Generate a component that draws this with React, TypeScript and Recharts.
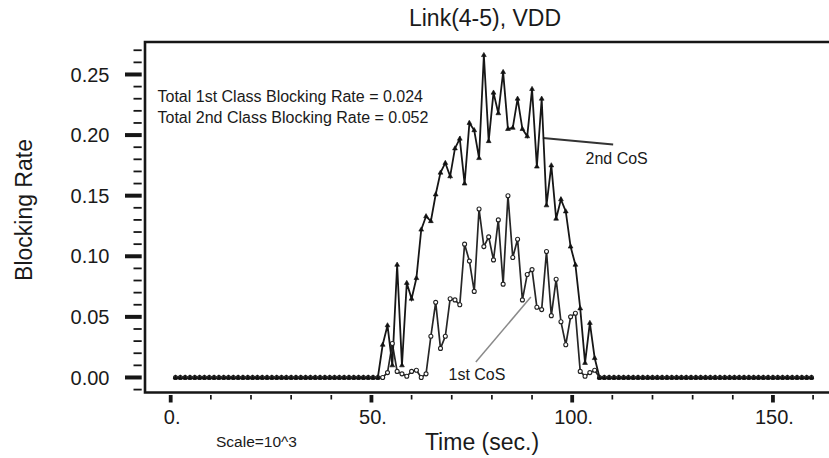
import React from 'react';
import { LineChart, Line, XAxis, YAxis, ReferenceLine, ReferenceArea } from 'recharts';

// Time samples (sec., scale 10^3)
const times = [
  1.2, 2.4, 3.6, 4.8, 6, 7.2, 8.4, 9.6, 10.8, 12, 13.2, 14.4, 15.6, 16.8, 18, 19.2, 20.4, 21.6, 22.8, 24,
  25.2, 26.4, 27.6, 28.8, 30, 31.2, 32.4, 33.6, 34.8, 36, 37.2, 38.4, 39.6, 40.8, 42, 43.2, 44.4, 45.6, 46.8, 48,
  49.2, 50.4, 51.6, 52.8, 54, 55.2, 56.4, 57.6, 58.8, 60, 61.2, 62.4, 63.6, 64.8, 66, 67.2, 68.4, 69.6, 70.8, 72,
  73.2, 74.4, 75.6, 76.8, 78, 79.2, 80.4, 81.6, 82.8, 84, 85.2, 86.4, 87.6, 88.8, 90, 91.2, 92.4, 93.6, 94.8, 96,
  97.2, 98.4, 99.6, 100.8, 102, 103.2, 104.4, 105.6, 106.8, 108, 109.2, 110.4, 111.6, 112.8, 114, 115.2, 116.4, 117.6, 118.8, 120,
  121.2, 122.4, 123.6, 124.8, 126, 127.2, 128.4, 129.6, 130.8, 132, 133.2, 134.4, 135.6, 136.8, 138, 139.2, 140.4, 141.6, 142.8, 144,
  145.2, 146.4, 147.6, 148.8, 150, 151.2, 152.4, 153.6, 154.8, 156, 157.2, 158.4, 159.6,
];

// 1st CoS blocking rate
const firstCoS = [
  0, 0, 0, 0, 0, 0, 0, 0, 0, 0, 0, 0, 0, 0, 0, 0, 0, 0, 0, 0,
  0, 0, 0, 0, 0, 0, 0, 0, 0, 0, 0, 0, 0, 0, 0, 0, 0, 0, 0, 0,
  0, 0, 0, 0, 0.004, 0.028, 0.005, 0.003, 0.001, 0.005, 0.006, 0, 0.003, 0.034, 0.062, 0.024, 0.034, 0.065, 0.064, 0.06,
  0.11, 0.096, 0.071, 0.139, 0.108, 0.116, 0.097, 0.13, 0.077, 0.15, 0.099, 0.114, 0.064, 0.085, 0.089, 0.058, 0.056, 0.104, 0.051, 0.081,
  0.046, 0.027, 0.05, 0.053, 0.005, 0.001, 0.004, 0.006, 0, 0, 0, 0, 0, 0, 0, 0, 0, 0, 0, 0,
  0, 0, 0, 0, 0, 0, 0, 0, 0, 0, 0, 0, 0, 0, 0, 0, 0, 0, 0, 0,
  0, 0, 0, 0, 0, 0, 0, 0, 0, 0, 0, 0, 0,
];

// 2nd CoS blocking rate
const secondCoS = [
  0, 0, 0, 0, 0, 0, 0, 0, 0, 0, 0, 0, 0, 0, 0, 0, 0, 0, 0, 0,
  0, 0, 0, 0, 0, 0, 0, 0, 0, 0, 0, 0, 0, 0, 0, 0, 0, 0, 0, 0,
  0, 0, 0, 0.027, 0.043, 0.01, 0.093, 0.01, 0.078, 0.065, 0.082, 0.122, 0.133, 0.129, 0.151, 0.169, 0.177, 0.166, 0.189, 0.197,
  0.16, 0.21, 0.204, 0.181, 0.266, 0.195, 0.235, 0.218, 0.252, 0.205, 0.206, 0.23, 0.205, 0.199, 0.238, 0.174, 0.23, 0.142, 0.175, 0.131,
  0.147, 0.137, 0.108, 0.093, 0.057, 0.012, 0.045, 0.016, 0, 0, 0, 0, 0, 0, 0, 0, 0, 0, 0, 0,
  0, 0, 0, 0, 0, 0, 0, 0, 0, 0, 0, 0, 0, 0, 0, 0, 0, 0, 0, 0,
  0, 0, 0, 0, 0, 0, 0, 0, 0, 0, 0, 0, 0,
];

const xTicks = [0, 10, 20, 30, 40, 50, 60, 70, 80, 90, 100, 110, 120, 130, 140, 150, 160];
const xMajor = [0, 50, 100, 150];
const yTicks = [
  -0.01, 0, 0.01, 0.02, 0.03, 0.04, 0.05, 0.06, 0.07, 0.08, 0.09, 0.1, 0.11, 0.12, 0.13, 0.14,
  0.15, 0.16, 0.17, 0.18, 0.19, 0.2, 0.21, 0.22, 0.23, 0.24, 0.25, 0.26, 0.27,
];
const yMajor = [0, 0.05, 0.1, 0.15, 0.2, 0.25];

const xDomain = [-6.4, 167];
const yDomain = [-0.0124, 0.2768];

// annotation pointer segments (data coordinates)
const pointer2nd = [{ x: 92.7, y: 0.1976 }, { x: 110.2, y: 0.1922 }];
const pointer1st = [{ x: 76.0, y: 0.0128 }, { x: 89.7, y: 0.0664 }];

const data = times.map((t, i) => ({ t, first: firstCoS[i], second: secondCoS[i] }));

const FONT = '"Liberation Sans", Arial, Helvetica, sans-serif';
const INK = '#161616';

const XTick = (props: any) => {
  const { x, y, payload } = props;
  const v = payload.value;
  const major = xMajor.includes(v);
  return (
    <g>
      <line x1={x} x2={x} y1={y + 2.5} y2={y + (major ? 10 : 7)} stroke={INK} strokeWidth={major ? 3.8 : 1.7} />
      {major && (
        <text x={x + 1.5} y={y + 31} textAnchor="middle" fontSize={20} fontFamily={FONT} fill="#1a1a1a">
          {`${v}.`}
        </text>
      )}
    </g>
  );
};

const YTick = (props: any) => {
  const { x, y, payload } = props;
  const v = payload.value;
  const major = yMajor.some((m) => Math.abs(m - v) < 1e-9);
  return (
    <g>
      <line x1={x - (major ? 20 : 11.5)} x2={x - 3.3} y1={y} y2={y} stroke={INK} strokeWidth={major ? 4 : 1.8} />
      {major && (
        <text x={x - 35.5} y={y} dy="0.36em" textAnchor="end" fontSize={20} fontFamily={FONT} fill="#1a1a1a">
          {v.toFixed(2)}
        </text>
      )}
    </g>
  );
};

const TriDot = (props: any) => {
  const { cx, cy, index } = props;
  if (cx == null || cy == null) return <g key={`t${index}`} />;
  return (
    <path
      key={`t${index}`}
      d={`M${cx},${cy - 2.7} L${cx + 2.4},${cy + 1.5} L${cx - 2.4},${cy + 1.5} Z`}
      fill="#111"
      stroke="#111"
      strokeWidth={0.6}
    />
  );
};

const CircDot = (props: any) => {
  const { cx, cy, index } = props;
  if (cx == null || cy == null) return <g key={`c${index}`} />;
  return <circle key={`c${index}`} cx={cx} cy={cy} r={2} fill="#fff" stroke="#222" strokeWidth={1.1} />;
};

export default function App() {
  return (
    <div style={{ position: 'absolute', left: 0, top: 0, width: 829, height: 458, overflow: 'hidden', background: '#fff' }}>
      <LineChart
        width={870}
        height={458}
        data={data}
        margin={{ top: 42, right: 28.8, bottom: 0, left: 0 }}
      >
        <XAxis
          type="number"
          dataKey="t"
          domain={xDomain}
          ticks={xTicks}
          interval={0}
          allowDataOverflow
          axisLine={false}
          tickLine={false}
          tickSize={0}
          tickMargin={0}
          height={65.5}
          tick={<XTick />}
        />
        <YAxis
          type="number"
          domain={yDomain}
          ticks={yTicks}
          interval={0}
          allowDataOverflow
          axisLine={false}
          tickLine={false}
          tickSize={0}
          tickMargin={0}
          width={145}
          tick={<YTick />}
        />
        <ReferenceArea
          x1={xDomain[0]}
          x2={xDomain[1]}
          y1={yDomain[0]}
          y2={yDomain[1]}
          fill="none"
          fillOpacity={0}
          stroke={INK}
          strokeWidth={2.6}
          ifOverflow="visible"
        />
        <ReferenceLine segment={pointer1st} stroke="#8a8a8a" strokeWidth={1.5} ifOverflow="visible" />
        <ReferenceLine segment={pointer2nd} stroke="#333" strokeWidth={2} ifOverflow="visible" />
        <Line
          type="linear"
          dataKey="first"
          stroke="#262626"
          strokeWidth={1.7}
          dot={CircDot}
          activeDot={false}
          isAnimationActive={false}
        />
        <Line
          type="linear"
          dataKey="second"
          stroke="#161616"
          strokeWidth={1.8}
          dot={TriDot}
          activeDot={false}
          isAnimationActive={false}
        />
      </LineChart>
      <svg
        width={829}
        height={458}
        style={{ position: 'absolute', left: 0, top: 0, pointerEvents: 'none' }}
        fontFamily={FONT}
        fill="#1a1a1a"
      >
        <text x={485} y={26} textAnchor="middle" fontSize={23}>Link(4-5), VDD</text>
        <text x={24} y={210} dy="0.35em" textAnchor="middle" fontSize={23} transform="rotate(-90, 24, 210)">
          Blocking Rate
        </text>
        <text x={482} y={450} textAnchor="middle" fontSize={23}>Time (sec.)</text>
        <text x={216} y={447} fontSize={15.5}>Scale=10^3</text>
        <text x={157.5} y={101.5} fontSize={16}>Total 1st Class Blocking Rate = 0.024</text>
        <text x={157.5} y={123.3} fontSize={16}>Total 2nd Class Blocking Rate = 0.052</text>
        <text x={585.5} y={164} fontSize={16}>2nd CoS</text>
        <text x={448.5} y={380} fontSize={16}>1st CoS</text>
      </svg>
    </div>
  );
}
